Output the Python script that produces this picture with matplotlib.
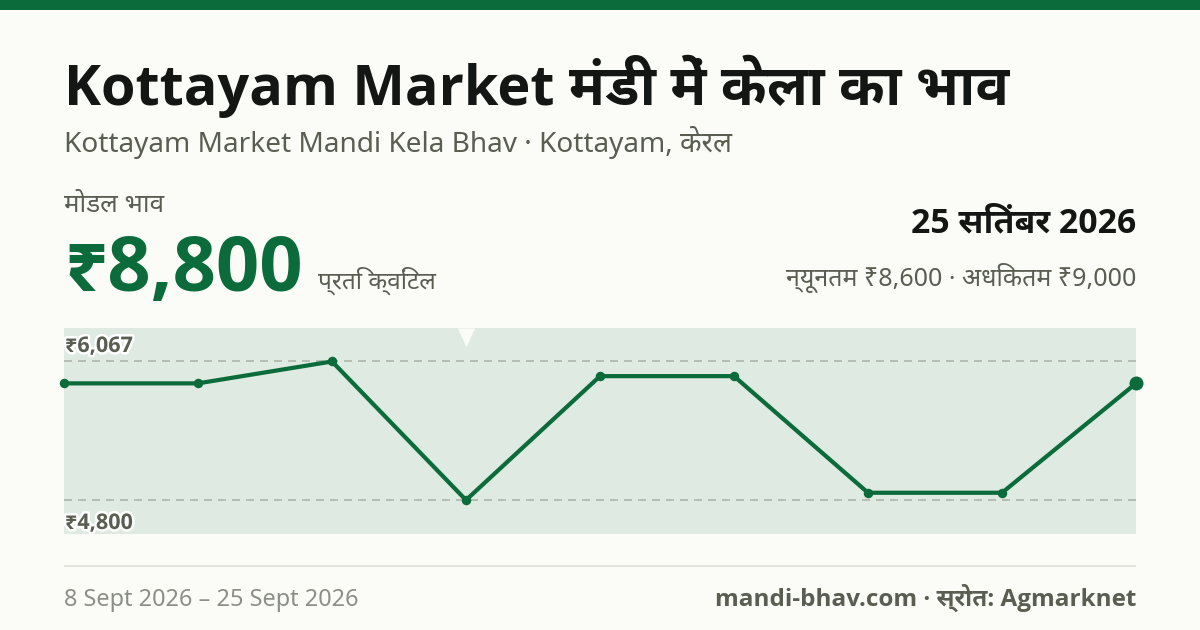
import matplotlib
matplotlib.use('Agg')
import matplotlib.pyplot as plt
import matplotlib.patheffects as pe
from matplotlib.path import Path
from matplotlib.patches import Rectangle

REGULAR = ['Noto Sans', 'Noto Sans Devanagari', 'DejaVu Sans']
BOLD = ['Open Sans', 'Noto Sans Devanagari UI', 'DejaVu Sans']
plt.rcParams['font.family'] = REGULAR

# --- data ---
dates = ['8 Sept', '10 Sept', '12 Sept', '15 Sept', '17 Sept', '19 Sept', '22 Sept', '24 Sept', '25 Sept']
prices = [5867, 5867, 6067, 4800, 5933, 5933, 4867, 4867, 5867]
y_high = 6067
y_low = 4800
high_label = '₹6,067'
low_label = '₹4,800'
title = 'Kottayam Market मंडी में केला का भाव'
subtitle = 'Kottayam Market Mandi Kela Bhav · Kottayam, केरल'
price_caption = 'मोडल भाव'
price_text = '₹8,800'
unit_text = 'प्रति क्विंटल'
date_text = '25 सितंबर 2026'
range_text = 'न्यूनतम ₹8,600 · अधिकतम ₹9,000'
span_text = '8 Sept 2026 – 25 Sept 2026'
source_text = 'mandi-bhav.com · स्रोत: Agmarknet'

# --- style ---
W, H = 1200, 630
BG = '#fbfcf8'
GREEN = '#0b6b3a'
FILL = '#deeae2'
INK = '#141613'
MUTED = '#5a5d52'
FAINT = '#8c8f85'
GRID = '#a9afa3'
RULE = '#e2e4dc'
PX = 0.72

fig = plt.figure(figsize=(W / 100, H / 100), dpi=100, facecolor=BG)


def px_text(x, y, s, size, color, bold=False, ha='left'):
    return fig.text(x / W, 1 - y / H, s, fontsize=size * PX, color=color,
                    family=BOLD if bold else REGULAR,
                    fontweight='bold' if bold else 'normal', ha=ha, va='baseline')


fig.add_artist(Rectangle((0, 1 - 10 / H), 1, 10 / H, transform=fig.transFigure,
                         facecolor=GREEN, edgecolor='none'))

px_text(64, 105, title, 55.8, INK, True)
px_text(64, 152, subtitle, 28, MUTED)
px_text(64, 212, price_caption, 26, MUTED)
px_text(64, 291, price_text, 76, GREEN, True)
px_text(318, 289, unit_text, 24.5, MUTED)
px_text(1136, 232, date_text, 33.8, INK, True, ha='right')
px_text(1136, 286, range_text, 25, MUTED, ha='right')
px_text(64, 606, span_text, 23.5, FAINT)
px_text(1136, 606, source_text, 24.2, MUTED, True, ha='right')

fig.add_artist(Rectangle((64 / W, 1 - 567 / H), 1072 / W, 2 / H, transform=fig.transFigure,
                         facecolor=RULE, edgecolor='none'))

# --- chart ---
left, right, top, bottom = 64, 1136, 328, 534
ax = fig.add_axes([left / W, 1 - bottom / H, (right - left) / W, (bottom - top) / H])
ax.set_facecolor(FILL)
for sp in ax.spines.values():
    sp.set_visible(False)
ax.set_xticks([])
ax.set_yticks([])
xs = list(range(len(prices)))
ax.set_xlim(0, len(prices) - 1)
ax.set_ylim(4490, 6373)

for v in (y_high, y_low):
    ax.axhline(v, color=GRID, lw=1.5 * PX, dashes=(8 / 1.5, 6 / 1.5), zorder=1)

ax.plot(xs, prices, color=GREEN, lw=4.2 * PX, zorder=3, solid_joinstyle='round', clip_on=False)
ax.plot(xs[:-1], prices[:-1], ls='none', marker='o', ms=9.5 * PX, mfc=GREEN, mec='none',
        zorder=4, clip_on=False)
ax.plot(xs[-1:], prices[-1:], ls='none', marker='o', ms=14 * PX, mfc=GREEN, mec='none',
        zorder=5, clip_on=False)

# white notch above the lowest price
low_idx = prices.index(min(prices))
notch = Path([(-8.5, 0), (8.5, 0), (0, -19), (-8.5, 0)], closed=True)
ax.plot([xs[low_idx]], [ax.get_ylim()[1]], ls='none', marker=notch, ms=38 * PX,
        mfc=BG, mec='none', zorder=2, clip_on=True)

halo = [pe.withStroke(linewidth=5 * PX, foreground='white')]
for lab, py in ((high_label, 352), (low_label, 529)):
    t = px_text(65, py, lab, 21.6, MUTED, True)
    t.set_path_effects(halo)
    t.set_zorder(10)

fig.savefig('out.png', dpi=100, facecolor=BG)
